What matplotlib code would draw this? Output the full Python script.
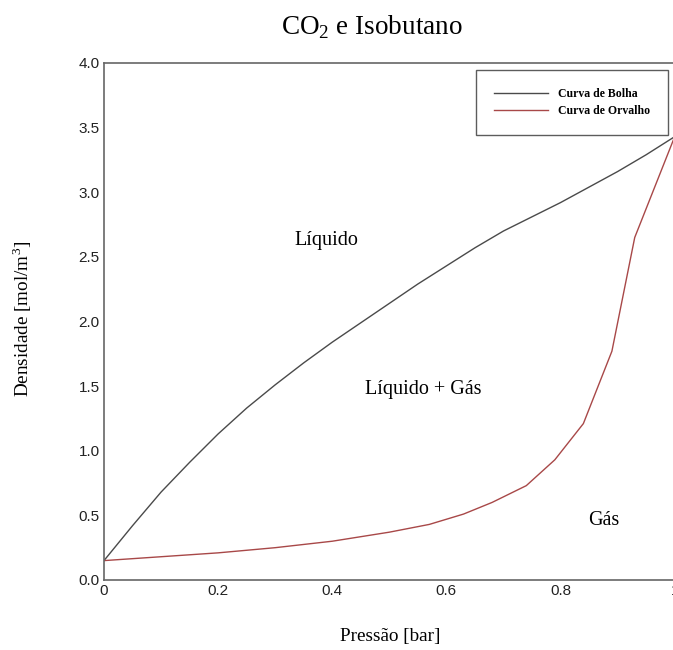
import matplotlib.pyplot as plt
import matplotlib.ticker as mticker

plt.rcParams['mathtext.fontset'] = 'custom'
plt.rcParams['mathtext.rm'] = 'Liberation Serif'

# Curva de bolha (líquido saturado)
p_bolha = [0.0, 0.05, 0.1, 0.15, 0.2, 0.25, 0.3, 0.35, 0.4, 0.45, 0.5,
           0.55, 0.6, 0.65, 0.7, 0.75, 0.8, 0.85, 0.9, 0.95, 1.0]
d_bolha = [0.15, 0.42, 0.68, 0.91, 1.13, 1.33, 1.51, 1.68, 1.84, 1.99, 2.14,
           2.29, 2.43, 2.57, 2.70, 2.81, 2.92, 3.04, 3.16, 3.29, 3.43]

# Curva de orvalho (vapor saturado)
p_orvalho = [0.0, 0.1, 0.2, 0.3, 0.4, 0.5, 0.57, 0.63, 0.68, 0.74, 0.79,
             0.84, 0.89, 0.93, 1.0]
d_orvalho = [0.15, 0.18, 0.21, 0.25, 0.30, 0.37, 0.43, 0.51, 0.60, 0.73, 0.93,
             1.21, 1.77, 2.65, 3.43]

x_ticks = [0, 0.2, 0.4, 0.6, 0.8, 1.0]
x_tick_labels = ['0', '0.2', '0.4', '0.6', '0.8', '1']
y_ticks = [0.0, 0.5, 1.0, 1.5, 2.0, 2.5, 3.0, 3.5, 4.0]

serif = 'Liberation Serif'
sans = 'Liberation Sans'

fig = plt.figure(figsize=(6.73, 6.5), dpi=100)
ax = fig.add_axes([0.1545, 0.1077, 0.848, 0.7954])

ax.plot(p_bolha, d_bolha, color='#4a4a4a', lw=1.0, label='Curva de Bolha')
ax.plot(p_orvalho, d_orvalho, color='#a84848', lw=1.0, label='Curva de Orvalho')

ax.set_xlim(0, 1)
ax.set_ylim(0, 4)
ax.set_xticks(x_ticks)
ax.set_xticklabels(x_tick_labels)
ax.set_yticks(y_ticks)
ax.yaxis.set_major_formatter(mticker.FormatStrFormatter('%.1f'))
ax.tick_params(length=0, labelsize=11, pad=3)
for lab in ax.get_xticklabels() + ax.get_yticklabels():
    lab.set_fontfamily(sans)
    lab.set_color('#222222')

for side in ['left', 'bottom', 'top']:
    ax.spines[side].set_color('#666666')
    ax.spines[side].set_linewidth(1.2)
ax.spines['right'].set_visible(False)

# Regiões
ax.text(0.39, 2.63, 'Líquido', family=serif, fontsize=14.5, ha='center', va='center')
ax.text(0.56, 1.47, 'Líquido + Gás', family=serif, fontsize=14.5, ha='center', va='center')
ax.text(0.875, 0.46, 'Gás', family=serif, fontsize=14.5, ha='center', va='center')

leg = ax.legend(loc='upper right', bbox_to_anchor=(0.988, 0.986),
                prop={'family': serif, 'size': 8.5, 'weight': 'bold'},
                frameon=True, fancybox=False, handlelength=4.6,
                handletextpad=0.85, borderpad=1.5, labelspacing=0.45,
                borderaxespad=0)
leg.get_frame().set_edgecolor('#333333')
leg.get_frame().set_linewidth(1.0)

fig.text(0.553, 0.958, 'CO$_2$ e Isobutano', family=serif, fontsize=19.5,
         ha='center', va='center')
fig.text(0.58, 0.021, 'Pressão [bar]', family=serif, fontsize=13.8,
         ha='center', va='center')
fig.text(0.033, 0.51, 'Densidade [mol/m$^3$]', family=serif, fontsize=13.8,
         ha='center', va='center', rotation=90)

fig.savefig('out.png', dpi=100)
